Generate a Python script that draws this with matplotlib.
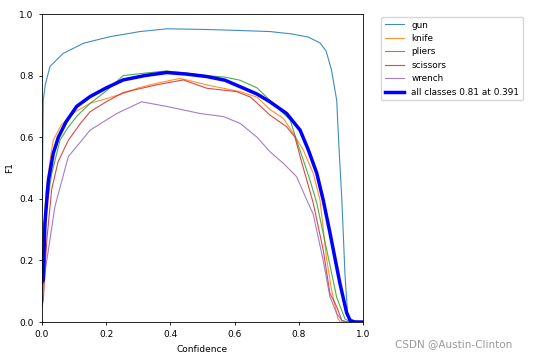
import matplotlib
matplotlib.use('Agg')
import matplotlib.pyplot as plt

# F1-confidence curve values
gun_x = [0.0, 0.004, 0.01, 0.025, 0.066, 0.129, 0.21, 0.305, 0.39, 0.5, 0.6, 0.71,
         0.78, 0.83, 0.866, 0.885, 0.902, 0.918, 0.926, 0.934, 0.944, 0.952, 0.96, 1.0]
gun_y = [0.35, 0.72, 0.77, 0.83, 0.872, 0.905, 0.926, 0.943, 0.952, 0.95, 0.947, 0.943,
         0.935, 0.925, 0.906, 0.88, 0.818, 0.72, 0.55, 0.40, 0.15, 0.03, 0.005, 0.0]

knife_x = [0.0, 0.004, 0.012, 0.027, 0.035, 0.06, 0.1, 0.15, 0.2, 0.253, 0.30, 0.357, 0.43,
           0.513, 0.56, 0.617, 0.67, 0.71, 0.752, 0.783, 0.814, 0.845, 0.866, 0.886, 0.902,
           0.922, 0.93, 1.0]
knife_y = [0.1, 0.25, 0.42, 0.54, 0.59, 0.64, 0.68, 0.71, 0.725, 0.742, 0.76, 0.775, 0.791,
           0.77, 0.76, 0.748, 0.73, 0.69, 0.661, 0.612, 0.558, 0.483, 0.396, 0.21, 0.104,
           0.01, 0.0, 0.0]

pliers_x = [0.0, 0.005, 0.015, 0.03, 0.056, 0.08, 0.11, 0.15, 0.2, 0.253, 0.32, 0.388, 0.45,
            0.513, 0.57, 0.617, 0.67, 0.71, 0.773, 0.793, 0.814, 0.835, 0.856, 0.887, 0.918,
            0.944, 0.96, 1.0]
pliers_y = [0.1, 0.2, 0.38, 0.48, 0.59, 0.63, 0.67, 0.71, 0.75, 0.80, 0.808, 0.815, 0.808,
            0.80, 0.795, 0.785, 0.76, 0.72, 0.656, 0.59, 0.526, 0.46, 0.386, 0.234, 0.08,
            0.01, 0.0, 0.0]

scissors_x = [0.0, 0.004, 0.015, 0.03, 0.05, 0.082, 0.12, 0.15, 0.2, 0.253, 0.357, 0.44, 0.513,
              0.606, 0.65, 0.71, 0.762, 0.788, 0.804, 0.825, 0.845, 0.876, 0.897, 0.918, 0.934,
              0.95, 1.0]
scissors_y = [0.05, 0.07, 0.266, 0.43, 0.52, 0.59, 0.645, 0.683, 0.715, 0.745, 0.77, 0.786, 0.759,
              0.748, 0.73, 0.672, 0.634, 0.60, 0.537, 0.46, 0.386, 0.234, 0.093, 0.05, 0.005,
              0.0, 0.0]

wrench_x = [0.0, 0.006, 0.02, 0.04, 0.082, 0.124, 0.15, 0.233, 0.31, 0.388, 0.492, 0.565, 0.617,
            0.67, 0.71, 0.752, 0.793, 0.825, 0.845, 0.876, 0.897, 0.918, 0.934, 0.95, 1.0]
wrench_y = [0.05, 0.14, 0.234, 0.374, 0.537, 0.59, 0.623, 0.677, 0.715, 0.70, 0.677, 0.667, 0.645,
            0.60, 0.553, 0.515, 0.472, 0.396, 0.35, 0.2, 0.082, 0.027, 0.005, 0.0, 0.0]

all_x = [0.0, 0.004, 0.009, 0.02, 0.035, 0.051, 0.075, 0.108, 0.15, 0.2, 0.253, 0.32, 0.388,
         0.45, 0.513, 0.57, 0.617, 0.67, 0.71, 0.762, 0.804, 0.83, 0.856, 0.876, 0.897, 0.928,
         0.949, 0.96, 0.975, 1.0]
all_y = [0.13, 0.136, 0.32, 0.46, 0.547, 0.60, 0.65, 0.70, 0.732, 0.76, 0.786, 0.80, 0.81,
         0.805, 0.797, 0.785, 0.764, 0.74, 0.715, 0.677, 0.623, 0.558, 0.483, 0.396, 0.29, 0.126,
         0.03, 0.005, 0.0, 0.0]

classes = ['gun', 'knife', 'pliers', 'scissors', 'wrench']
xs = [gun_x, knife_x, pliers_x, scissors_x, wrench_x]
ys = [gun_y, knife_y, pliers_y, scissors_y, wrench_y]
colors = ['tab:blue', 'tab:orange', 'tab:green', 'tab:red', 'tab:purple']

fs = 6.5
fig = plt.figure(figsize=(5.39, 3.59), dpi=100)
ax = fig.add_axes([42 / 539, 1 - 322 / 359, 321 / 539, 308 / 359])

for nome, x, y, c in zip(classes, xs, ys, colors):
    ax.plot(x, y, linewidth=0.8, color=c, alpha=0.85, label=nome)
ax.plot(all_x, all_y, linewidth=2.5, color='blue', label='all classes 0.81 at 0.391')

ax.set_xlim(0, 1)
ax.set_ylim(0, 1)
ax.set_xlabel('Confidence', fontsize=fs)
ax.set_ylabel('F1', fontsize=fs)
ax.tick_params(labelsize=fs, length=2.5, width=0.6)
for s in ax.spines.values():
    s.set_linewidth(0.6)

ax.legend(bbox_to_anchor=((381 - 42) / 321, (322 - 17) / 308), loc='upper left',
          borderaxespad=0, fontsize=6.4, labelspacing=0.5, handlelength=2.2,
          handletextpad=0.8)

fig.text(395 / 539, 1 - 347 / 359, 'CSDN @Austin-Clinton', fontsize=7.5, color='#999999')

plt.savefig('out.png', dpi=100)
plt.close()
